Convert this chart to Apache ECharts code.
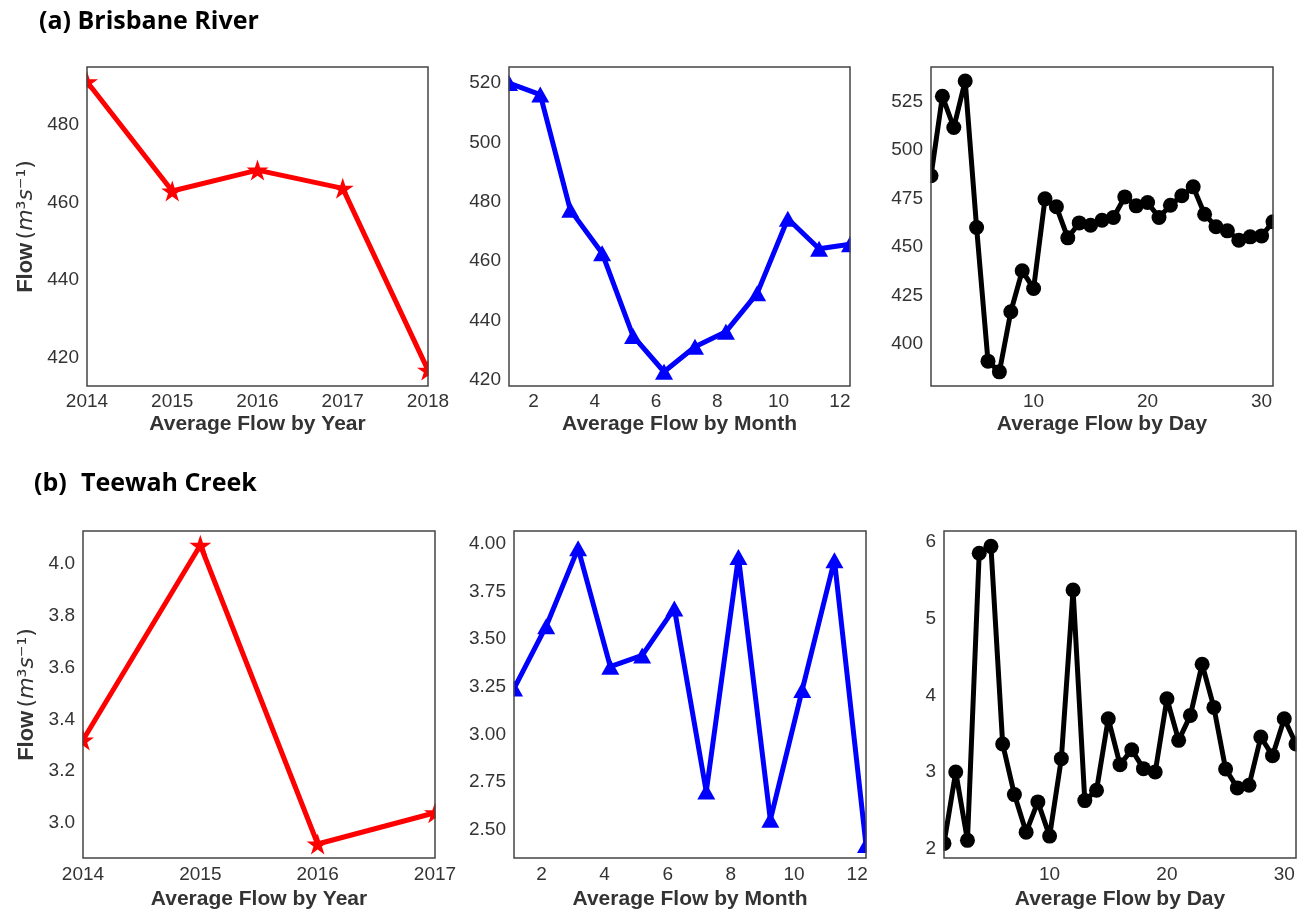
<!DOCTYPE html>
<html>
<head>
<meta charset="utf-8">
<script src="https://cdn.jsdelivr.net/npm/echarts@6/dist/echarts.min.js"></script>
<style>
html,body{margin:0;padding:0;background:#fff;}
#chart{width:1308px;height:917px;}
</style>
</head>
<body>
<div id="chart"></div>
<script>
// ---------- Data ----------
// (a) Brisbane River
const yearsA = [2014, 2015, 2016, 2017, 2018];
const flowYearA = [491.2, 463.0, 468.4, 463.7, 416.8];
const monthsA = [1.2, 2.22, 3.2, 4.24, 5.25, 6.26, 7.27, 8.28, 9.3, 10.3, 11.32, 12.33];
const flowMonthA = [520.0, 516.1, 477.3, 462.7, 434.8, 422.8, 431.2, 436.3, 449.2, 474.3, 464.2, 465.7];
const daysA = [1,2,3,4,5,6,7,8,9,10,11,12,13,14,15,16,17,18,19,20,21,22,23,24,25,26,27,28,29,30,31];
const flowDayA = [486.8, 527.8, 511.7, 535.7, 460.1, 391.2, 385.7, 416.7, 437.8, 428.7, 474.9, 470.8, 454.8, 462.5, 461.3, 463.9, 465.3, 475.9, 471.3, 473.0, 465.3, 471.6, 476.5, 481.1, 467.0, 460.5, 458.4, 453.6, 455.3, 455.8, 463.1];

// (b) Teewah Creek
const yearsB = [2014, 2015, 2016, 2017];
const flowYearB = [3.32, 4.073, 2.918, 3.039];
const monthsB = [1.13, 2.15, 3.16, 4.18, 5.19, 6.21, 7.22, 8.24, 9.25, 10.26, 11.28, 12.28];
const flowMonthB = [3.24, 3.567, 3.975, 3.355, 3.414, 3.66, 2.70, 3.93, 2.552, 3.233, 3.913, 2.42];
const daysB = [1,2,3,4,5,6,7,8,9,10,11,12,13,14,15,16,17,18,19,20,21,22,23,24,25,26,27,28,29,30,31];
const flowDayB = [2.07, 3.0, 2.11, 5.85, 5.94, 3.365, 2.706, 2.217, 2.611, 2.165, 3.174, 5.372, 2.628, 2.763, 3.695, 3.096, 3.291, 3.044, 3.0, 3.954, 3.413, 3.738, 4.405, 3.842, 3.04, 2.793, 2.828, 3.456, 3.213, 3.695, 3.365];

// tick steps / label decimals
const xTickStep = [1, 2, 10, 1, 2, 10];
const yTickStep = [20, 20, 25, 0.2, 0.25, 1];
const yTickDecimals = [0, 0, 0, 1, 2, 0];

// titles and axis names
const rowTitleTags = ['(a)', '(b)'];
const rowTitleNames = ['Brisbane River', 'Teewah Creek'];
const xNames = ['Average Flow by Year', 'Average Flow by Month', 'Average Flow by Day'];

// ---------- Layout ----------
const grids = [
  {left: 87,  top: 67,  width: 341, height: 319},
  {left: 509, top: 67,  width: 341, height: 319},
  {left: 931, top: 67,  width: 342, height: 319},
  {left: 83,  top: 531, width: 352, height: 327},
  {left: 514, top: 531, width: 352, height: 327},
  {left: 944, top: 531, width: 352, height: 327}
];
const xRanges = [[2014, 2018], [1.2, 12.33], [1, 31], [2014, 2017], [1.13, 12.28], [1, 31]];
const yRanges = [[412.7, 495.0], [418.0, 525.4], [378.4, 542.9], [2.864, 4.128], [2.352, 4.066], [1.88, 6.14]];

const STAR = 'path://M100 0 L122.45 69.1 L195.11 69.1 L136.33 111.8 L158.78 180.9 L100 138.2 L41.22 180.9 L63.67 111.8 L4.89 69.1 L77.55 69.1 Z';

const seriesDefs = [
  {x: yearsA,  y: flowYearA,  color: '#ff0000', symbol: STAR, size: [22, 21]},
  {x: monthsA, y: flowMonthA, color: '#0000ff', symbol: 'triangle', size: [18, 16]},
  {x: daysA,   y: flowDayA,   color: '#000000', symbol: 'circle', size: 15},
  {x: yearsB,  y: flowYearB,  color: '#ff0000', symbol: STAR, size: [22, 21]},
  {x: monthsB, y: flowMonthB, color: '#0000ff', symbol: 'triangle', size: [18, 16]},
  {x: daysB,   y: flowDayB,   color: '#000000', symbol: 'circle', size: 15}
];

function isMultiple(v, step) {
  const r = v / step;
  return Math.abs(r - Math.round(r)) < 1e-6;
}

const SANS = '"Liberation Sans", Arial, sans-serif';
const tickFont = {fontFamily: SANS, fontSize: 19, color: '#333'};
const titleFont = {fontFamily: '"Open Sans", "Noto Sans", sans-serif', fontWeight: 'bold', fontSize: 25, fill: '#000'};

// white strips just outside each plot box so markers are clipped like the original
const PAD = 14;
const maskRects = [];
grids.forEach(g => {
  const l = g.left, t = g.top, r = g.left + g.width, b = g.top + g.height;
  maskRects.push(
    {type: 'rect', z: 4, silent: true, shape: {x: l - PAD, y: t - PAD, width: PAD - 0.5, height: g.height + 2 * PAD}, style: {fill: '#fff'}},
    {type: 'rect', z: 4, silent: true, shape: {x: r + 0.5, y: t - PAD, width: PAD - 0.5, height: g.height + 2 * PAD}, style: {fill: '#fff'}},
    {type: 'rect', z: 4, silent: true, shape: {x: l - PAD, y: t - PAD, width: g.width + 2 * PAD, height: PAD - 0.5}, style: {fill: '#fff'}},
    {type: 'rect', z: 4, silent: true, shape: {x: l - PAD, y: b + 0.5, width: g.width + 2 * PAD, height: PAD - 0.5}, style: {fill: '#fff'}}
  );
});

const option = {
  animation: false,
  backgroundColor: '#ffffff',
  graphic: maskRects.concat([
    {type: 'text', z: 20, left: 39, top: 9, style: Object.assign({text: rowTitleTags[0] + ' ' + rowTitleNames[0]}, titleFont)},
    {type: 'text', z: 20, left: 34, top: 471, style: Object.assign({text: rowTitleTags[1]}, titleFont)},
    {type: 'text', z: 20, left: 81, top: 471, style: Object.assign({text: rowTitleNames[1]}, titleFont)}
  ]),
  grid: grids.map(g => Object.assign({show: true, z: 10, borderColor: '#444', borderWidth: 1.5, backgroundColor: 'transparent', containLabel: false}, g)),
  xAxis: grids.map((g, i) => ({
    type: 'value',
    gridIndex: i,
    z: 10,
    min: xRanges[i][0],
    max: xRanges[i][1],
    minInterval: xTickStep[i],
    maxInterval: xTickStep[i],
    name: xNames[i % 3],
    nameLocation: 'middle',
    nameGap: i < 3 ? 28 : 31,
    nameTextStyle: {fontFamily: SANS, fontWeight: 'bold', fontSize: 21, color: '#333'},
    axisLine: {show: false},
    axisTick: {show: false},
    splitLine: {show: false},
    axisLabel: Object.assign({
      margin: i < 3 ? 6 : 7,
      formatter: v => isMultiple(v, xTickStep[i]) ? String(Math.round(v)) : ''
    }, tickFont)
  })),
  yAxis: grids.map((g, i) => {
    const ax = {
      type: 'value',
      gridIndex: i,
      z: 10,
      min: yRanges[i][0],
      max: yRanges[i][1],
      minInterval: yTickStep[i],
      maxInterval: yTickStep[i],
      axisLine: {show: false},
      axisTick: {show: false},
      splitLine: {show: false},
      axisLabel: Object.assign({
        margin: 8,
        formatter: v => isMultiple(v, yTickStep[i]) ? v.toFixed(yTickDecimals[i]) : ''
      }, tickFont)
    };
    if (i === 0 || i === 3) {
      ax.name = '{b|Flow} {n|(}{i|m}{n|³}{i|s}{n|⁻¹)}';
      ax.nameLocation = 'middle';
      ax.nameRotate = 90;
      ax.nameGap = i === 0 ? 50 : 45;
      ax.nameTextStyle = {
        color: '#333',
        rich: {
          b: {fontFamily: SANS, fontWeight: 'bold', fontSize: 22, color: '#333'},
          n: {fontFamily: '"DejaVu Sans", sans-serif', fontSize: 22, color: '#333'},
          i: {fontFamily: '"DejaVu Sans", sans-serif', fontStyle: 'italic', fontSize: 22, color: '#333'}
        }
      };
    }
    return ax;
  }),
  series: seriesDefs.map((s, i) => ({
    type: 'line',
    xAxisIndex: i,
    yAxisIndex: i,
    z: 2,
    data: s.x.map((xv, k) => [xv, s.y[k]]),
    symbol: s.symbol,
    symbolSize: s.size,
    showAllSymbol: true,
    clip: true,
    lineStyle: {color: s.color, width: 5},
    itemStyle: {color: s.color, borderWidth: 0},
    emphasis: {disabled: true}
  }))
};

const chart = echarts.init(document.getElementById('chart'), null, {renderer: 'canvas'});
chart.setOption(option);
</script>
</body>
</html>
